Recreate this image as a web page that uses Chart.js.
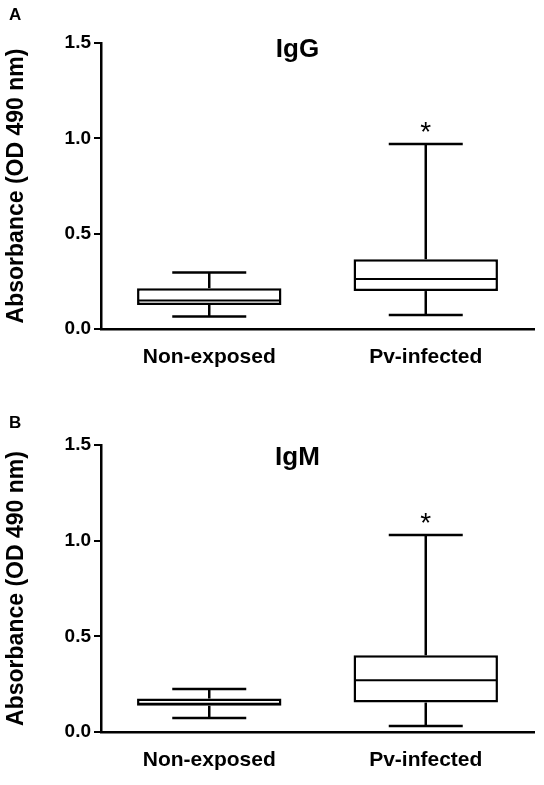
<!DOCTYPE html>
<html>
<head>
<meta charset="utf-8">
<script src="https://cdn.jsdelivr.net/npm/chart.js@4"></script>
<style>
  body { margin: 0; background: #fff; }
  canvas { display: block; }
</style>
</head>
<body>
<canvas id="igg" width="544" height="390"></canvas>
<canvas id="igm" width="544" height="395"></canvas>
<script>
var groups = ["Non-exposed", "Pv-infected"];
var yTicks = [0, 0.5, 1.0, 1.5];
var stars = ["", "*"];

// IgG box plot (min, Q1, median, Q3, max)
var iggMin = [0.065, 0.073];
var iggQ1 = [0.126, 0.199];
var iggMedian = [0.150, 0.262];
var iggQ3 = [0.214, 0.366];
var iggMax = [0.296, 0.970];

// IgM box plot
var igmMin = [0.073, 0.031];
var igmQ1 = [0.137, 0.154];
var igmMedian = [0.148, 0.271];
var igmQ3 = [0.175, 0.401];
var igmMax = [0.225, 1.029];

var fontFamily = "'Liberation Sans', Arial, sans-serif";

var panelText = {
  id: "panelText",
  afterDraw: function(chart, args, opts) {
    var ctx = chart.ctx;
    var area = chart.chartArea;
    var xs = chart.scales.x;
    var ys = chart.scales.y;
    ctx.save();
    ctx.fillStyle = "#000";
    ctx.textBaseline = "alphabetic";
    ctx.textAlign = "left";
    ctx.font = "bold 17px " + fontFamily;
    ctx.fillText(opts.panel, 9, opts.panelY);
    ctx.textAlign = "center";
    ctx.font = "bold 26px " + fontFamily;
    ctx.fillText(opts.title, (area.left + area.right) / 2 - 20, area.top + opts.titleY);
    ctx.font = "28px " + fontFamily;
    stars.forEach(function(s, i) {
      if (s) {
        ctx.fillText(s, xs.getPixelForValue(i), ys.getPixelForValue(opts.maxs[i]) - 3);
      }
    });
    ctx.restore();
  }
};

function pairs(a, b) {
  return a.map(function(v, i) { return [v, b[i]]; });
}

function makeChart(id, panel, title, mins, q1s, medians, q3s, maxs, top, bottom, titleY, panelY) {
  var canvas = document.getElementById(id);
  var xHeight = canvas.height - bottom;
  new Chart(canvas, {
    type: "bar",
    data: {
      labels: groups,
      datasets: [
        {
          type: "line",
          data: medians,
          showLine: false,
          pointStyle: "line",
          pointRadius: 71,
          pointBorderWidth: 2,
          pointBorderColor: "#000",
          order: 0
        },
        {
          type: "line",
          data: maxs,
          showLine: false,
          pointStyle: "line",
          pointRadius: 37,
          pointBorderWidth: 2.5,
          pointBorderColor: "#000",
          order: 1
        },
        {
          type: "line",
          data: mins,
          showLine: false,
          pointStyle: "line",
          pointRadius: 37,
          pointBorderWidth: 2.5,
          pointBorderColor: "#000",
          order: 1
        },
        {
          data: pairs(q1s, q3s),
          backgroundColor: "#fff",
          borderColor: "#000",
          borderWidth: 2.5,
          borderSkipped: false,
          grouped: false,
          barPercentage: 0.667,
          categoryPercentage: 1,
          order: 2
        },
        {
          data: pairs(q3s, maxs),
          backgroundColor: "#000",
          borderWidth: 0,
          grouped: false,
          barPercentage: 0.0115,
          categoryPercentage: 1,
          order: 3
        },
        {
          data: pairs(mins, q1s),
          backgroundColor: "#000",
          borderWidth: 0,
          grouped: false,
          barPercentage: 0.0115,
          categoryPercentage: 1,
          order: 3
        }
      ]
    },
    options: {
      responsive: false,
      maintainAspectRatio: false,
      animation: false,
      events: [],
      layout: { autoPadding: false, padding: { top: top, right: 10, bottom: 0, left: 0 } },
      plugins: {
        legend: { display: false },
        tooltip: { enabled: false },
        panelText: { panel: panel, title: title, titleY: titleY, panelY: panelY, maxs: maxs }
      },
      scales: {
        x: {
          type: "category",
          grid: { display: false, drawTicks: false },
          border: { display: true, color: "#000", width: 2.5 },
          ticks: {
            color: "#000",
            padding: 16,
            font: { family: fontFamily, size: 21, weight: "bold" }
          },
          afterFit: function(scale) { scale.height = xHeight; }
        },
        y: {
          min: 0,
          max: 1.5,
          grid: { drawOnChartArea: false, drawTicks: true, tickLength: 7, color: "#000", lineWidth: 2 },
          border: { display: true, color: "#000", width: 2.5 },
          ticks: {
            color: "#000",
            padding: 3,
            font: { family: fontFamily, size: 19, weight: "bold" },
            callback: function(v) { return Number(v).toFixed(1); }
          },
          afterBuildTicks: function(axis) {
            axis.ticks = yTicks.map(function(v) { return { value: v }; });
          },
          title: {
            display: true,
            text: "Absorbance (OD 490 nm)",
            color: "#000",
            padding: { top: 3, bottom: 0 },
            font: { family: fontFamily, size: 23, weight: "bold" }
          },
          afterFit: function(scale) { scale.width = 101; }
        }
      }
    },
    plugins: [panelText]
  });
}

makeChart("igg", "A", "IgG", iggMin, iggQ1, iggMedian, iggQ3, iggMax, 43, 329, 14, 20);
makeChart("igm", "B", "IgM", igmMin, igmQ1, igmMedian, igmQ3, igmMax, 55, 342, 19.5, 37.5);
</script>
</body>
</html>
